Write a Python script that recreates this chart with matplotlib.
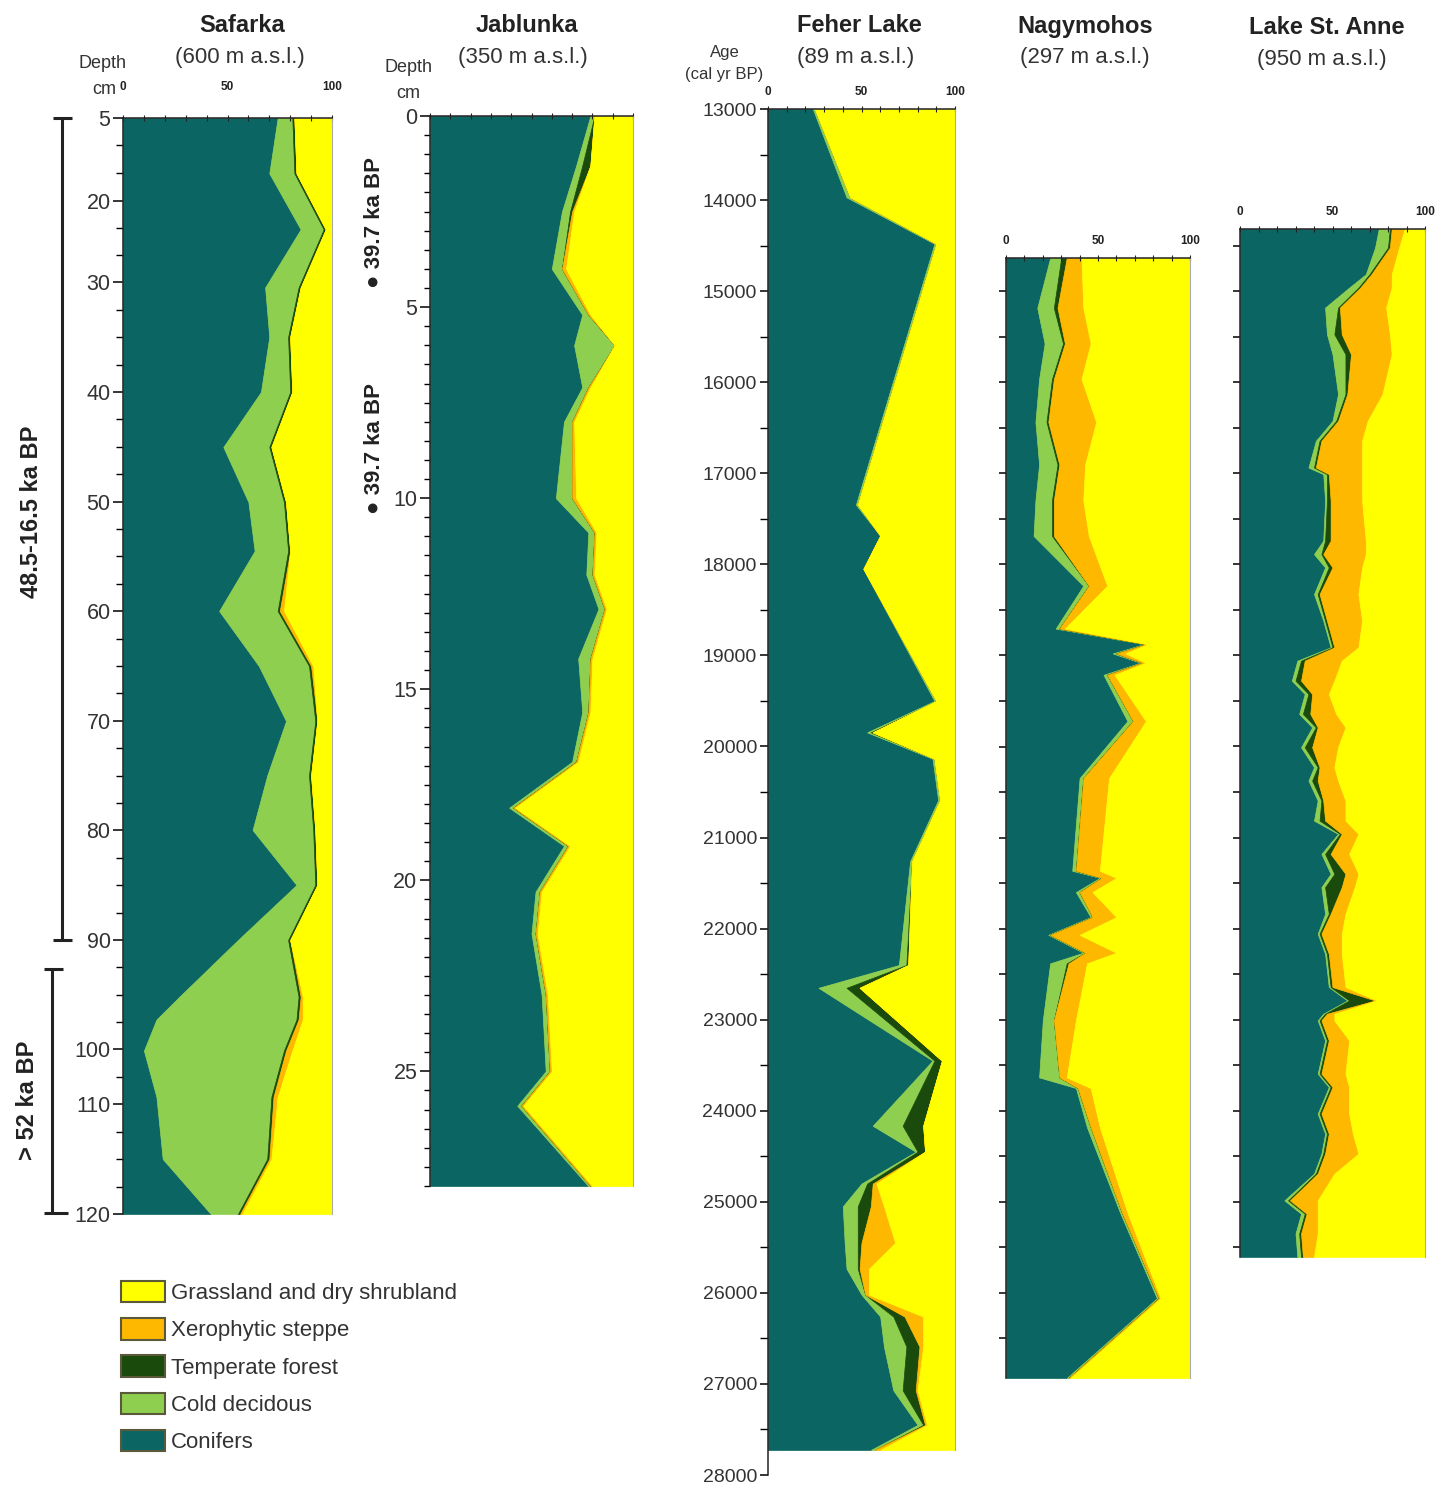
import numpy as np
import matplotlib
matplotlib.use("Agg")
import matplotlib.pyplot as plt
from matplotlib.patches import Patch
from matplotlib.ticker import FixedLocator, MultipleLocator

plt.rcParams['font.family'] = ['Liberation Sans', 'DejaVu Sans']

# ---------------- data (percent of each biome class) ----------------
# Safarka, depth in cm
saf_depth = [5, 15, 23.5, 30.5, 35, 40, 45, 50, 54.5, 60, 65, 70, 75, 80, 85, 90,
             95.2, 97.3, 100.3, 108.7, 115, 120]
saf_conifers = [74, 70, 85, 68, 70, 66, 48, 60, 63, 46, 65, 78, 69, 62, 83, 55, 27, 16, 10, 16, 19, 42]
saf_cold = [7, 12, 11, 16, 9, 14, 22, 17, 16, 28, 24, 14, 20, 29, 9, 24, 57, 67, 67, 55, 50, 13]
saf_temperate = [1, 1, 1, 1, 1, 1, 1, 1, 1, 1, 1, 1, 1, 1, 1, 1, 1, 1, 1, 1, 1, 1]
saf_xero = [0, 0, 0, 0, 0, 0, 0, 0, 0, 2, 1, 0, 0, 0, 0, 0, 1, 2, 3, 2, 1, 1]
saf_grass = [18, 17, 3, 15, 20, 19, 29, 22, 20, 23, 9, 7, 10, 8, 7, 20, 14, 14, 19, 26, 29, 43]

# Jablunka, depth (axis units)
jab_depth = [0, 1.3, 2.5, 4.0, 5.2, 6.0, 7.1, 8.0, 10.0, 10.9, 12.0, 12.9, 14.2, 15.6, 16.9,
             18.1, 19.1, 20.3, 21.4, 23.0, 25.0, 25.9, 28.0]
jab_conifers = [79, 72, 65, 60, 75, 71, 75, 66, 62, 78, 77, 83, 73, 75, 70, 39, 66, 52, 50, 55, 57, 43, 78]
jab_cold = [2, 3, 4, 5, 3, 20, 3, 4, 8, 3, 3, 3, 6, 3, 2, 2, 2, 2, 2, 2, 2, 2, 1]
jab_temperate = [0, 4, 1, 0, 0, 0, 0, 0, 0, 0, 0, 0, 0, 0, 0, 0, 0, 0, 0, 0, 0, 0, 0]
jab_xero = [0, 0, 1, 2, 1, 0, 1, 1, 2, 1, 1, 1, 1, 1, 1, 1, 1, 1, 1, 1, 1, 1, 1]
jab_grass = [19, 21, 29, 33, 21, 9, 21, 29, 28, 18, 19, 13, 20, 21, 27, 58, 31, 45, 47, 42, 40, 54, 20]

# Feher Lake, age cal yr BP
feh_age = [13000, 13970, 14480, 17345, 17685, 18050, 19500, 19845, 20135, 20590, 21260, 22400,
           22650, 23450, 24165, 24450, 24800, 25050, 25450, 25735, 26020, 26260, 26590, 27070,
           27450, 27725]
feh_conifers = [24, 42, 89, 47, 60, 51, 89, 53, 88, 91, 76, 70, 27, 88, 56, 79, 50, 40, 41, 42,
                50, 60, 62, 67, 80, 55]
feh_cold = [1, 2, 1, 1, 0, 0, 1, 2, 1, 1, 1, 4, 15, 1, 16, 1, 3, 8, 7, 6, 2, 7, 12, 5, 3, 2]
feh_temperate = [0, 0, 0, 0, 0, 0, 0, 1, 0, 0, 0, 1, 7, 4, 11, 4, 3, 7, 2, 1, 0, 6, 7, 7, 1, 0]
feh_xero = [0, 0, 0, 0, 0, 0, 0, 0, 0, 0, 0, 0, 0, 0, 0, 0, 2, 7, 18, 5, 2, 10, 2, 1, 1, 3]
feh_grass = [75, 56, 10, 52, 40, 49, 10, 44, 11, 8, 23, 25, 51, 7, 17, 16, 42, 38, 32, 46,
             46, 17, 17, 20, 15, 40]

# Nagymohos, age cal yr BP
nag_age = [14636, 15184, 15575, 15965, 16436, 16905, 17296, 17688, 18235, 18705, 18876, 18978,
           19080, 19213, 19721, 20347, 21364, 21442, 21599, 21873, 22068, 22264, 22381, 23007,
           23633, 23750, 24181, 25119, 26058, 26934]
nag_conifers = [24, 17, 21, 18, 16, 18, 16, 15, 42, 27, 75, 58, 73, 53, 66, 40, 36, 51, 38, 46,
                23, 42, 24, 20, 18, 38, 44, 62, 82, 33]
nag_cold = [6, 9, 10, 7, 6, 10, 9, 10, 3, 2, 1, 2, 1, 2, 3, 2, 2, 1, 2, 1, 1, 1, 9, 6, 11, 1, 2, 1, 1, 1]
nag_temperate = [3, 2, 1, 1, 1, 1, 1, 1, 0, 0, 0, 0, 0, 0, 0, 0, 0, 0, 0, 0, 0, 0, 1, 0, 0, 0, 0, 0, 0, 0]
nag_xero = [8, 14, 14, 15, 26, 14, 16, 19, 10, 3, 1, 5, 2, 4, 7, 14, 13, 8, 7, 13, 16, 17, 10, 12,
            4, 7, 5, 3, 1, 1]
nag_grass = [59, 58, 54, 59, 51, 57, 58, 55, 45, 68, 23, 35, 24, 41, 24, 44, 49, 40, 53, 40, 60,
             40, 56, 62, 67, 54, 49, 34, 16, 65]

# Lake St. Anne, age cal yr BP
ann_age = [14318, 14523, 14815, 14962, 15181, 15474, 15693, 16132, 16425, 16644, 16937, 17010,
           17302, 17741, 17888, 18034, 18327, 18619, 18912, 19058, 19278, 19424, 19643, 19790,
           20009, 20228, 20375, 20594, 20814, 20960, 21180, 21399, 21545, 21838, 22057, 22277,
           22642, 22789, 22935, 23008, 23228, 23593, 23740, 24032, 24252, 24471, 24691, 24984,
           25130, 25349, 25605]
ann_conifers = [75, 73, 68, 59, 46, 47, 50, 53, 50, 41, 37, 45, 46, 45, 40, 46, 40, 45, 49, 31,
                28, 35, 32, 39, 33, 40, 37, 42, 40, 53, 44, 49, 44, 46, 42, 46, 48, 58, 45, 42,
                46, 42, 48, 42, 46, 44, 40, 24, 33, 30, 31]
ann_cold = [6, 7, 2, 5, 7, 4, 7, 4, 2, 2, 3, 2, 1, 1, 4, 2, 2, 1, 1, 2, 2, 2, 2, 2, 2, 2, 2, 2,
            3, 1, 2, 2, 2, 2, 1, 1, 1, 1, 1, 1, 1, 1, 1, 1, 1, 1, 1, 2, 2, 2, 2]
ann_temperate = [1, 1, 1, 1, 1, 4, 3, 1, 1, 1, 1, 1, 2, 3, 1, 2, 1, 1, 1, 2, 3, 2, 4, 1, 4, 1,
                 3, 1, 3, 1, 3, 6, 9, 1, 1, 1, 1, 14, 1, 1, 1, 1, 1, 1, 1, 1, 1, 1, 1, 1, 1]
ann_xero = [7, 5, 11, 17, 25, 26, 22, 19, 16, 22, 25, 18, 17, 19, 23, 16, 21, 19, 13, 20, 18, 9,
            14, 15, 14, 8, 11, 12, 11, 9, 10, 7, 7, 8, 11, 7, 7, 1, 4, 7, 11, 13, 9, 15, 13, 18,
            9, 15, 6, 9, 6]
ann_grass = [11, 14, 18, 18, 21, 19, 18, 23, 31, 34, 34, 34, 34, 32, 32, 34, 36, 34, 36, 45, 49,
             52, 48, 43, 47, 49, 47, 43, 43, 36, 41, 36, 38, 43, 45, 45, 43, 26, 49, 49, 41, 43,
             41, 41, 39, 36, 49, 58, 58, 58, 60]

classes = ["Conifers", "Cold decidous", "Temperate forest", "Xerophytic steppe",
           "Grassland and dry shrubland"]
colors = ["#0b6663", "#8fcf4f", "#1b4a0d", "#ffb800", "#ffff00"]

# Safarka depth axis is not linear in the original: tick depth -> pixel row
saf_tick_depth = [5, 20, 30, 40, 50, 60, 70, 80, 90, 100, 110, 120]
saf_tick_row = [118, 201, 282, 392, 502, 611, 721, 830, 940, 1049, 1104, 1214]

# ---------------- figure ----------------
W, H = 1440, 1491
fig = plt.figure(figsize=(W / 100, H / 100), dpi=100)


def frame(l, t, r, b):
    return [l / W, 1 - b / H, (r - l) / W, (b - t) / H]


# overlay in pixel coordinates for titles, brackets and notes
ov = fig.add_axes([0, 0, 1, 1])
ov.set_xlim(0, W)
ov.set_ylim(H, 0)
ov.axis('off')


def column(rect, y, parts, xlabels=True, pad=6):
    ax = fig.add_axes(frame(*rect))
    left = np.zeros(len(y))
    for vals, col in zip(parts, colors):
        right = left + np.asarray(vals, float)
        ax.fill_betweenx(y, left, right, facecolor=col, edgecolor=col, lw=0.5)
        left = right
    ax.set_xlim(0, 100)
    ax.xaxis.tick_top()
    ax.set_xticks([0, 50, 100], labels=['0', '50', '100'], fontweight='bold', fontsize=8.5)
    ax.xaxis.set_minor_locator(MultipleLocator(10))
    ax.tick_params(axis='x', which='both', direction='inout', length=4, width=0.8,
                   pad=pad, labeltop=xlabels, colors='#222222')
    ax.tick_params(axis='y', which='major', direction='out', length=7, width=1.1,
                   labelsize=15.5, labelcolor='#333333', pad=2)
    ax.tick_params(axis='y', which='minor', direction='out', length=5, width=1)
    ax.spines['bottom'].set_visible(False)
    ax.spines['right'].set_color('#aaaaaa')
    ax.spines['right'].set_linewidth(0.8)
    for s in ('left', 'top'):
        ax.spines[s].set_color('#222222')
        ax.spines[s].set_linewidth(1.1)
    return ax


# Safarka
ax = column((123, 118, 332, 1214), saf_depth,
            [saf_conifers, saf_cold, saf_temperate, saf_xero, saf_grass], pad=16)
fwd = lambda d: np.interp(d, saf_tick_depth, saf_tick_row)
inv = lambda p: np.interp(p, saf_tick_row, saf_tick_depth)
ax.set_yscale('function', functions=(fwd, inv))
ax.set_ylim(120, 5)
ax.set_yticks(saf_tick_depth)
rows = np.linspace(118, 1214, 41)
rows = [r for r in rows if min(abs(r - t) for t in saf_tick_row) > 5]
ax.yaxis.set_minor_locator(FixedLocator(inv(np.array(rows))))

# Jablunka
ax = column((430, 116, 633, 1186), jab_depth,
            [jab_conifers, jab_cold, jab_temperate, jab_xero, jab_grass], xlabels=False)
ax.set_ylim(28, 0)
ax.set_yticks(range(0, 26, 5))
ax.yaxis.set_minor_locator(MultipleLocator(0.5))
ax.tick_params(axis='y', which='minor', length=4)

# Feher Lake
ax = column((768, 109, 955, 1475), feh_age,
            [feh_conifers, feh_cold, feh_temperate, feh_xero, feh_grass])
ax.set_ylim(28000, 13000)
ax.set_yticks(range(13000, 28001, 1000))
ax.yaxis.set_minor_locator(MultipleLocator(500))
ax.tick_params(axis='y', which='major', labelsize=14, length=6)
ax.tick_params(axis='y', which='minor', length=6)
ax.spines['right'].set_bounds(13000, feh_age[-1])

# Nagymohos
ax = column((1006, 258, 1190, 1378), nag_age,
            [nag_conifers, nag_cold, nag_temperate, nag_xero, nag_grass])
ax.set_ylim(26934, 14636)
ax.set_yticks(np.arange(15000, 26901, 500))
ax.tick_params(axis='y', which='major', labelleft=False, length=5)

# Lake St. Anne
ax = column((1240, 229, 1425, 1257), ann_age,
            [ann_conifers, ann_cold, ann_temperate, ann_xero, ann_grass])
ax.set_ylim(25606, 14318)
ax.set_yticks(np.arange(14500, 25601, 500))
ax.tick_params(axis='y', which='major', labelleft=False, length=5)

# ---------------- titles and labels ----------------
titles = [(242, "Safarka", 240, "(600 m a.s.l.)"),
          (527, "Jablunka", 523, "(350 m a.s.l.)"),
          (859, "Feher Lake", 856, "(89 m a.s.l.)"),
          (1085, "Nagymohos", 1085, "(297 m a.s.l.)"),
          (1327, "Lake St. Anne", 1322, "(950 m a.s.l.)")]
for i, (xt, t, xs, s) in enumerate(titles):
    dy = 2 if i == 4 else 0
    ov.text(xt, 26 + dy, t, ha='center', va='center', fontsize=17, fontweight='bold',
            color='#222222')
    ov.text(xs, 57 + dy, s, ha='center', va='center', fontsize=16, color='#333333')

ov.text(103, 64, "Depth", ha='center', va='center', fontsize=13, color='#333333')
ov.text(104, 90, "cm", ha='center', va='center', fontsize=13, color='#333333')
ov.text(408, 68, "Depth", ha='center', va='center', fontsize=13, color='#333333')
ov.text(408, 94, "cm", ha='center', va='center', fontsize=13, color='#333333')
ov.text(725, 52, "Age", ha='center', va='center', fontsize=12, color='#333333')
ov.text(724, 75, "(cal yr BP)", ha='center', va='center', fontsize=12, color='#333333')

# age brackets beside Safarka
bk = dict(color='#222222', lw=2.2, solid_capstyle='butt')
ov.plot([62, 62], [118, 940], **bk)
ov.plot([53, 72], [118, 118], **bk)
ov.plot([53, 72], [940, 940], **bk)
ov.plot([52, 52], [969, 1213], **bk)
ov.plot([44, 63], [969, 969], **bk)
ov.plot([44, 68], [1213, 1213], **bk)
ov.text(32, 512, "48.5-16.5 ka BP", rotation=90, ha='center', va='center', fontsize=17,
        fontweight='bold', color='#222222')
ov.text(28, 1100, "> 52 ka BP", rotation=90, ha='center', va='center', fontsize=17,
        fontweight='bold', color='#222222')

# dating notes beside Jablunka
for yc in (222, 448):
    ov.text(374, yc, "\u25cf 39.7 ka BP", rotation=90, ha='center', va='center',
            fontsize=16, fontweight='bold', color='#222222')

# ---------------- legend ----------------
handles = [Patch(facecolor=c, edgecolor='#5a5a3a', lw=1.5, label=n)
           for n, c in zip(classes[::-1], colors[::-1])]
fig.legend(handles=handles, loc='upper left', bbox_to_anchor=(121 / W, 1 - 1281 / H),
           frameon=False, fontsize=16, handlelength=2.0, handleheight=1.1,
           labelspacing=0.63, handletextpad=0.25, borderpad=0, borderaxespad=0,
           labelcolor='#333333')

fig.savefig('out.png', dpi=100)
